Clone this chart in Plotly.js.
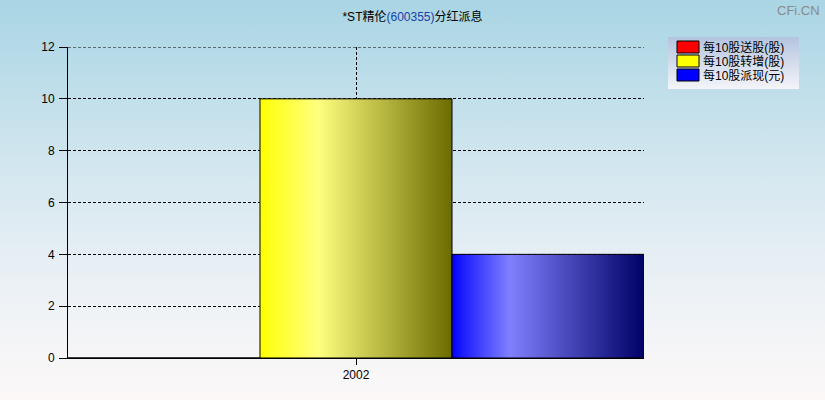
<!DOCTYPE html>
<html>
<head>
<meta charset="utf-8">
<script src="https://cdn.plot.ly/plotly-3.0.1.min.js"></script>
<style>
  html, body { margin: 0; padding: 0; }
  #chart { width: 825px; height: 400px;
    background: linear-gradient(to bottom, #a9d5e4 0%, #d6e8f0 45%, #eef2f6 75%, #fcf8f8 100%); }
</style>
</head>
<body>
<div id="chart"></div>
<script>
// ---- data ----
const categories = ['2002'];
const seriesNames = ['每10股送股(股)', '每10股转增(股)', '每10股派现(元)'];
const songGu = [0];      // 每10股送股
const zhuanZeng = [10];  // 每10股转增
const paiXian = [4];     // 每10股派现
const yTickVals = [0, 2, 4, 6, 8, 10, 12];
const yMax = 12;

const FONT = 'Arial, "Liberation Sans", "Noto Sans CJK SC", sans-serif';
const baseColors = ['#ff0000', '#ffff00', '#0000ff'];
const valuesList = [songGu, zhuanZeng, paiXian];

const traces = valuesList.map((vals, i) => ({
  type: 'bar',
  name: seriesNames[i],
  x: categories,
  y: vals,
  marker: { color: baseColors[i], line: { color: '#000000', width: 1 } },
  hoverinfo: 'none'
}));

const layout = {
  width: 825, height: 400,
  margin: { l: 68, r: 181, t: 47, b: 42, pad: 0 },
  paper_bgcolor: 'rgba(0,0,0,0)',
  plot_bgcolor: 'rgba(0,0,0,0)',
  font: { family: FONT, size: 12, color: '#000000' },
  title: {
    text: '*ST精伦<span style="color:#1a40a8">(600355)</span>分红派息',
    font: { family: FONT, size: 12, color: '#000000' },
    xref: 'container', x: 0.5, xanchor: 'center',
    yref: 'container', y: 1 - 17 / 400, yanchor: 'middle'
  },
  barmode: 'group', bargap: 0, bargroupgap: 0,
  xaxis: {
    type: 'category',
    range: [-0.5, 0.5],
    showline: true, linecolor: '#000000', linewidth: 1,
    ticks: 'outside', ticklen: 6, tickcolor: '#000000',
    showgrid: true, gridcolor: '#000000', gridwidth: 1, griddash: '3px,2px',
    tickfont: { family: FONT, size: 12, color: '#000000' },
    fixedrange: true
  },
  yaxis: {
    range: [0, yMax], tickvals: yTickVals, ticktext: yTickVals.map(String),
    showline: true, linecolor: '#000000', linewidth: 1,
    ticks: 'outside', ticklen: 8, tickcolor: '#000000',
    showgrid: true, gridcolor: '#000000', gridwidth: 1, griddash: '3px,2px',
    zeroline: false,
    tickfont: { family: FONT, size: 12, color: '#000000' },
    ticklabelstandoff: 2,
    fixedrange: true
  },
  shapes: [{
    type: 'line', layer: 'below',
    xref: 'paper', x0: 0, x1: 1,
    yref: 'y', y0: yMax, y1: yMax,
    line: { color: '#000000', width: 1, dash: '3px,2px' }
  }],
  showlegend: true,
  legend: {
    x: (668 - 68) / 576, xanchor: 'left',
    y: (358 - 37) / 311, yanchor: 'top',
    bgcolor: '#d8e0ee', borderwidth: 0,
    font: { family: FONT, size: 12, color: '#000000' },
    traceorder: 'normal'
  },
  annotations: [{
    text: 'CFi.CN', showarrow: false,
    xref: 'paper', yref: 'paper',
    x: (822 - 68) / 576, xanchor: 'right',
    y: (358 - 10) / 311, yanchor: 'middle',
    font: { family: FONT, size: 13, color: '#8a8a8a' }
  }]
};

Plotly.newPlot('chart', traces, layout, { displayModeBar: false, staticPlot: true }).then(gd => {
  const svgNS = 'http://www.w3.org/2000/svg';
  const mainSvg = gd.querySelector('.main-svg');
  let defs = mainSvg.querySelector('defs');
  if (!defs) { defs = document.createElementNS(svgNS, 'defs'); mainSvg.insertBefore(defs, mainSvg.firstChild); }
  function addGrad(id, stops, vertical) {
    const g = document.createElementNS(svgNS, 'linearGradient');
    g.setAttribute('id', id);
    g.setAttribute('x1', '0'); g.setAttribute('y1', '0');
    g.setAttribute('x2', vertical ? '0' : '1'); g.setAttribute('y2', vertical ? '1' : '0');
    stops.forEach(([o, c]) => {
      const s = document.createElementNS(svgNS, 'stop');
      s.setAttribute('offset', o); s.setAttribute('stop-color', c);
      g.appendChild(s);
    });
    defs.appendChild(g);
  }
  addGrad('gRed', [[0, '#ff0000'], [0.3, '#ff8080'], [1, '#660000']]);
  addGrad('gYel', [[0, '#ffff00'], [0.05, '#ffff1a'], [0.3, '#ffff80'], [1, '#6b6b00']]);
  addGrad('gBlu', [[0, '#0000ff'], [0.05, '#1a1aff'], [0.3, '#8080ff'], [1, '#000066']]);
  addGrad('gLeg', [[0, '#b4c4de'], [1, '#f4f4fa']], true);
  const gids = ['gRed', 'gYel', 'gBlu'];
  gd.querySelectorAll('.barlayer .trace').forEach((t, i) => {
    t.querySelectorAll('.point path').forEach(p => { p.style.fill = 'url(#' + gids[i] + ')'; });
  });
  // legend styling
  const leg = gd.querySelector('.legend');
  if (leg) {
    const bg = leg.querySelector('rect.bg');
    if (bg) { bg.setAttribute('width', 131); bg.setAttribute('height', 52); bg.style.fill = 'url(#gLeg)'; }
    leg.querySelectorAll('.traces').forEach((tr, i) => {
      tr.setAttribute('transform', 'translate(0,' + (10 + 14 * i) + ')');
      const p = tr.querySelector('.legendpoints path');
      if (p) { p.setAttribute('d', 'M11,6H-11V-6H11Z'); p.style.strokeWidth = '1px'; p.style.stroke = '#000'; }
      const tx = tr.querySelector('.legendtext');
      if (tx) tx.setAttribute('x', 35);
    });
    const sb = leg.querySelector('.scrollbox');
    if (sb) sb.setAttribute('transform', 'translate(0,0)');
  }
});
</script>
</body>
</html>
